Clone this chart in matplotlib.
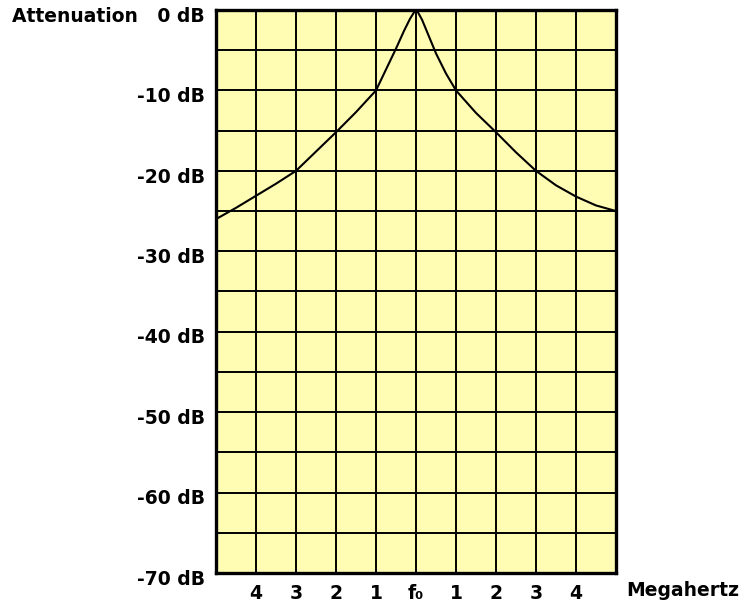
import matplotlib.pyplot as plt
import matplotlib.transforms as mtransforms

# Data
freq_offset = [-5, -4.5, -4, -3.5, -3, -2.5, -2, -1.5, -1, -0.75, -0.5, -0.3, -0.15, -0.05, 0,
               0.05, 0.15, 0.3, 0.5, 0.75, 1, 1.5, 2, 2.5, 3, 3.5, 4, 4.5, 5]
attenuation = [-26, -24.6, -23.1, -21.6, -20, -17.6, -15.2, -12.7, -10, -7.4, -4.8, -2.6, -1.1, -0.3, 0,
               -0.3, -1.2, -3.0, -5.4, -7.9, -10, -12.8, -15.2, -17.7, -20, -21.8, -23.2, -24.3, -25]
x_ticks = [-4, -3, -2, -1, 0, 1, 2, 3, 4]
x_labels = ['4', '3', '2', '1', 'f₀', '1', '2', '3', '4']
y_ticks = [0, -10, -20, -30, -40, -50, -60, -70]
y_labels = ['Attenuation   0 dB', '-10 dB', '-20 dB', '-30 dB', '-40 dB', '-50 dB', '-60 dB', '-70 dB']

plt.rcParams['font.family'] = ['DejaVu Sans']
plt.rcParams['font.weight'] = 'bold'

fig = plt.figure(figsize=(7.41, 6.05), dpi=100)
ax = fig.add_axes([0.2915, 0.0529, 0.5398, 0.9306])
ax.set_facecolor('#FFFCB4')

# grid: every MHz and every 5 dB
for gx in range(-4, 5):
    ax.axvline(gx, color='black', lw=1.4, zorder=1)
for gy in range(-65, 0, 5):
    ax.axhline(gy, color='black', lw=1.4, zorder=1)

ax.plot(freq_offset, attenuation, color='black', lw=1.5, zorder=2)

ax.set_xlim(-5, 5)
ax.set_ylim(-70, 0)
for s in ax.spines.values():
    s.set_linewidth(2.4)

ax.set_xticks(x_ticks)
ax.set_xticklabels(x_labels, fontsize=13.5, fontweight='bold')
ax.set_yticks(y_ticks)
ax.set_yticklabels(y_labels, fontsize=13.5, fontweight='bold')
ax.tick_params(axis='both', length=0)
ax.tick_params(axis='x', pad=8)
ax.tick_params(axis='y', pad=8)

# nudge the dB labels a little below their grid lines
shift = mtransforms.ScaledTranslation(0, -3 / 72, fig.dpi_scale_trans)
for lab in ax.get_yticklabels():
    lab.set_transform(lab.get_transform() + shift)

ax.text(1.025, -0.031, 'Megahertz', transform=ax.transAxes, va='center', ha='left',
        fontsize=13.5, fontweight='bold')

fig.savefig('out.png', dpi=100)
